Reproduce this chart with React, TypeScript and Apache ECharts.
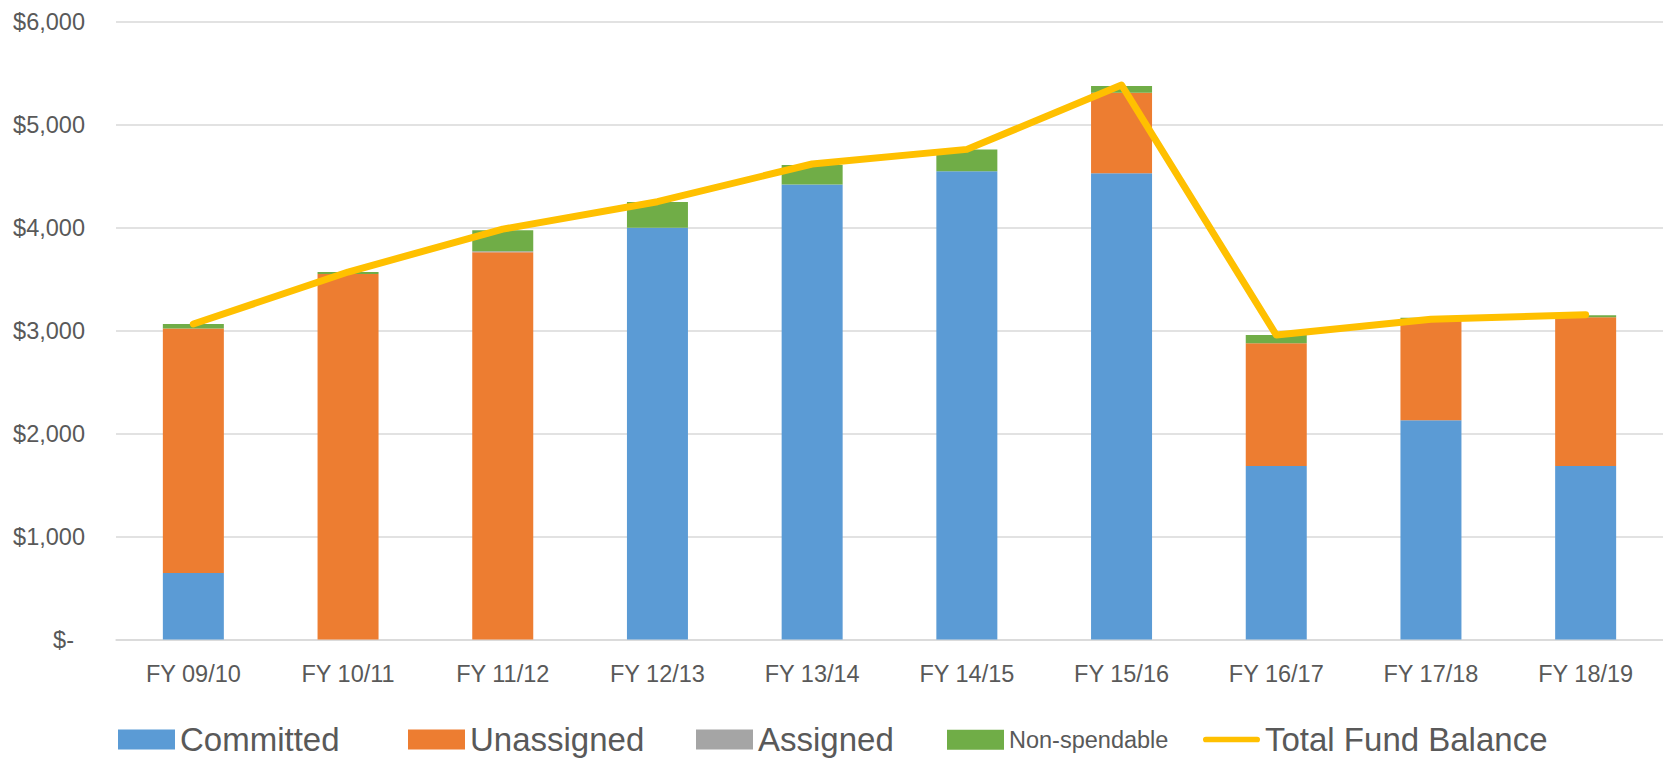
import React, { useEffect, useRef } from "react";
import * as echarts from "echarts";

const categories = ["FY 09/10", "FY 10/11", "FY 11/12", "FY 12/13", "FY 13/14", "FY 14/15", "FY 15/16", "FY 16/17", "FY 17/18", "FY 18/19"];
const committed = [645, 0, 0, 4000, 4420, 4547, 4527, 1685, 2129, 1685];
const unassigned = [2375, 3550, 3760, 0, 0, 0, 784, 1191, 983, 1444];
const assigned = [0, 0, 10, 0, 0, 0, 0, 0, 0, 0];
const nonSpendable = [43, 19, 204, 249, 188, 213, 64, 81, 13, 19];
const totalFundBalance = [3064, 3569, 3985, 4252, 4618, 4760, 5385, 2957, 3110, 3154];
const yTicks = { min: 0, max: 6000, interval: 1000 };

const FONT = "Liberation Sans";
const TXT = "#595959";

export default function App() {
  const ref = useRef<HTMLDivElement>(null);
  useEffect(() => {
    if (!ref.current) return;
    const chart = echarts.init(ref.current, undefined, { renderer: "svg" });
    const barSeries = (name: string, data: number[], color: string) => ({
      name,
      type: "bar",
      stack: "fund",
      data,
      barWidth: 61,
      itemStyle: { color },
      emphasis: { disabled: true },
    });
    const legendItem = (left: number, item: any, fontSize: number) => ({
      left,
      top: 718 + (33 - fontSize) / 2,
      itemWidth: 57,
      itemHeight: 20,
      symbolKeepAspect: true,
      textStyle: { color: TXT, fontSize, fontFamily: FONT },
      data: [item],
    });
    chart.setOption({
      animation: false,
      textStyle: { fontFamily: FONT, color: TXT },
      grid: { left: 116, right: -6, top: 21.7, bottom: 119.5, containLabel: false },
      xAxis: {
        type: "category",
        data: categories,
        axisLine: { lineStyle: { color: "#D9D9D9", width: 1.5 } },
        axisTick: { show: false },
        axisLabel: { color: TXT, fontSize: 23.5, fontFamily: FONT, margin: 22 },
      },
      yAxis: {
        type: "value",
        min: yTicks.min,
        max: yTicks.max,
        interval: yTicks.interval,
        axisLine: { show: false },
        axisTick: { show: false },
        splitLine: { lineStyle: { color: "#D9D9D9", width: 1.5 } },
        axisLabel: {
          color: TXT,
          fontSize: 23.5,
          fontFamily: FONT,
          margin: 31,
          formatter: (v: number) => (v === 0 ? "{z|$-}" : "$" + v.toLocaleString("en-US")),
          rich: { z: { color: TXT, fontSize: 23.5, fontFamily: FONT, padding: [0, 11, 0, 0] } },
        },
      },
      legend: [
        legendItem(113, { name: "Committed", icon: "rect" }, 33),
        legendItem(403, { name: "Unassigned", icon: "rect" }, 33),
        legendItem(691, { name: "Assigned", icon: "rect" }, 33),
        legendItem(942, { name: "Non-spendable", icon: "rect" }, 23.5),
        legendItem(
          1198,
          {
            name: "Total Fund Balance",
            icon: "path://M3,0H57A3,3 0 0 1 57,6H3A3,3 0 0 1 3,0Z",
            itemStyle: { color: "#FFC000" },
          },
          33
        ),
      ],
      series: [
        barSeries("Committed", committed, "#5B9BD5"),
        barSeries("Unassigned", unassigned, "#ED7D31"),
        barSeries("Assigned", assigned, "#A5A5A5"),
        barSeries("Non-spendable", nonSpendable, "#70AD47"),
        {
          name: "Total Fund Balance",
          type: "line",
          data: totalFundBalance,
          symbol: "none",
          z: 5,
          lineStyle: { color: "#FFC000", width: 7, cap: "round", join: "round" },
          itemStyle: { color: "#FFC000" },
          emphasis: { disabled: true },
        },
      ],
    });
    return () => chart.dispose();
  }, []);
  return (
    <div
      ref={ref}
      style={{ position: "fixed", left: 0, top: 0, width: 1663, height: 759, background: "#fff" }}
    />
  );
}
